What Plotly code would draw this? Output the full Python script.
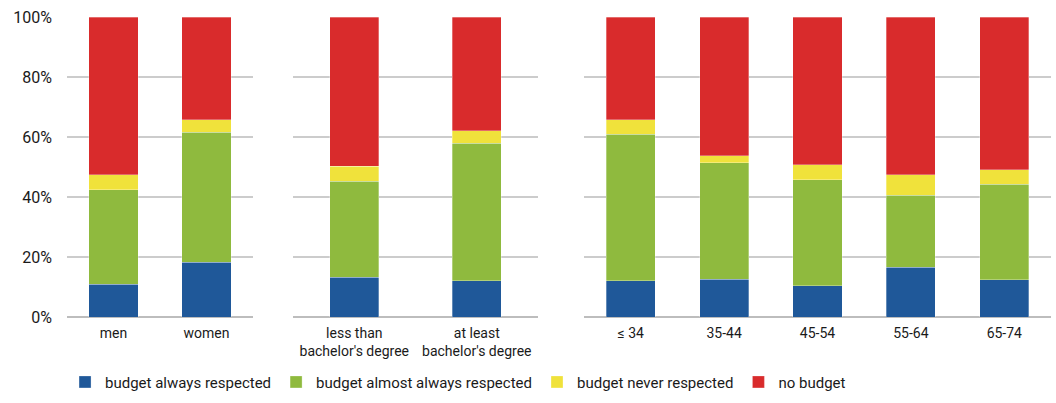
import plotly.graph_objects as go

# categories per panel
gender = ["men", "women"]
education = ["less than<br>bachelor's degree", "at least<br>bachelor's degree"]
age = ["≤ 34", "35-44", "45-54", "55-64", "65-74"]

series_names = ["budget always respected", "budget almost always respected",
                "budget never respected", "no budget"]
colors = ["#1f5899", "#8fba3e", "#f0e23b", "#d92b2c"]

# shares in %
always_gender = [11.0, 18.3]
almost_gender = [31.5, 43.3]
never_gender = [4.9, 4.2]
none_gender = [52.6, 34.2]

always_edu = [13.2, 12.1]
almost_edu = [32.1, 45.8]
never_edu = [4.9, 4.2]
none_edu = [49.8, 37.9]

always_age = [12.1, 12.6, 10.4, 16.6, 12.5]
almost_age = [48.8, 38.8, 35.4, 24.0, 31.7]
never_age = [4.8, 2.4, 5.0, 6.8, 4.9]
none_age = [34.3, 46.2, 49.2, 52.6, 50.9]

panels = [
    (gender, [always_gender, almost_gender, never_gender, none_gender], "x", "y", 0.53),
    (education, [always_edu, almost_edu, never_edu, none_edu], "x2", "y2", 0.40),
    (age, [always_age, almost_age, never_age, none_age], "x3", "y3", 0.525),
]

fig = go.Figure()
for p, (cats, values, xa, ya, w) in enumerate(panels):
    for name, color, vals in zip(series_names, colors, values):
        fig.add_trace(go.Bar(
            x=cats, y=vals, name=name, xaxis=xa, yaxis=ya, width=w,
            marker=dict(color=color, line=dict(color="rgba(255,255,255,0.5)", width=0.6)),
            legendgroup=name, showlegend=(p == 0),
        ))

font = dict(family="Roboto, Open Sans, sans-serif", size=14, color="#1a1a1a")
grid = "#cccccc"

xcommon = dict(showgrid=False, showline=False, ticks="", tickfont=font,
               ticklabelstandoff=6, fixedrange=True)
ycommon = dict(range=[0, 100], dtick=20, showgrid=True, gridcolor=grid, gridwidth=1.5,
               zeroline=True, zerolinecolor="#bdbdbd", zerolinewidth=2,
               showline=False, fixedrange=True)

fig.update_layout(
    barmode="stack",
    width=1056, height=403,
    margin=dict(l=67, r=5, t=17, b=85),
    paper_bgcolor="white", plot_bgcolor="white",
    font=font,
    xaxis=dict(domain=[0, 0.189], anchor="y", **xcommon),
    xaxis2=dict(domain=[0.2297, 0.4787], anchor="y2", **xcommon),
    xaxis3=dict(domain=[0.5254, 1.0], anchor="y3", **xcommon),
    yaxis=dict(anchor="x", ticksuffix="%", tickfont=dict(font, size=16),
               ticklabelstandoff=14, ticklabeloverflow="allow", **ycommon),
    yaxis2=dict(anchor="x2", showticklabels=False, **ycommon),
    yaxis3=dict(anchor="x3", showticklabels=False, **ycommon),
    legend=dict(orientation="h", x=-0.002, xanchor="left", y=-0.268, yanchor="bottom",
                font=dict(font, size=15), traceorder="normal"),
    bargap=0.45,
)

# drop the default body margin so the figure fills the window
fig.write_html("out.html", config={"displayModeBar": False},
               post_script="document.body.style.margin = '0px';")
